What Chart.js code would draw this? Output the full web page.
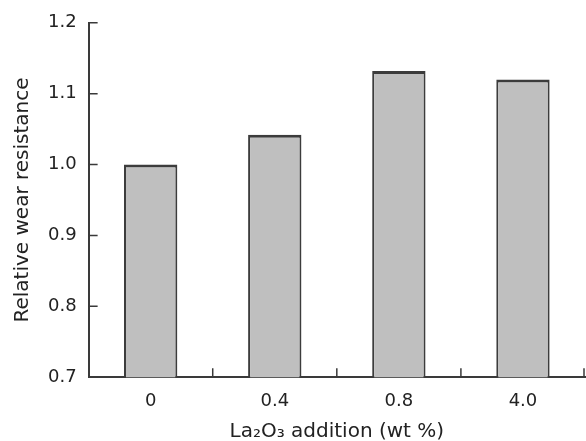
<!DOCTYPE html>
<html>
<head>
<meta charset="utf-8">
<script src="https://cdn.jsdelivr.net/npm/chart.js@4"></script>
<style>
  html, body { margin: 0; padding: 0; background: #fff; }
  #wrap { width: 586px; height: 441px; }
</style>
</head>
<body>
<div id="wrap"><canvas id="chart" width="586" height="441"></canvas></div>
<script>
const categories = ['0', '0.4', '0.8', '4.0'];
const wearResistance = [1.0, 1.042, 1.132, 1.12];
const yTicks = [0.7, 0.8, 0.9, 1.0, 1.1, 1.2];

const AXIS = '#3a3a3a';
const TEXT = '#222';
const FONT = 'DejaVu Sans';

// ticks pointing into the plot, like the printed figure
const innerTicks = {
  id: 'innerTicks',
  afterDraw(chart) {
    const ctx = chart.ctx;
    const x = chart.scales.x, y = chart.scales.y;
    ctx.save();
    ctx.strokeStyle = AXIS;
    ctx.lineWidth = 1.5;
    ctx.beginPath();
    y.ticks.forEach((t, i) => {
      const py = y.getPixelForTick(i);
      ctx.moveTo(x.left, py);
      ctx.lineTo(x.left + 9, py);
    });
    for (let i = 0; i < categories.length; i++) {
      const px = i < categories.length - 1
        ? (x.getPixelForTick(i) + x.getPixelForTick(i + 1)) / 2
        : x.right - 1;
      ctx.moveTo(px, y.bottom);
      ctx.lineTo(px, y.bottom - 9);
    }
    ctx.stroke();
    ctx.restore();
  }
};

new Chart(document.getElementById('chart'), {
  type: 'bar',
  data: {
    labels: categories,
    datasets: [{
      data: wearResistance,
      backgroundColor: '#bfbfbf',
      borderColor: '#3c3c3c',
      borderWidth: { top: 3, left: 2, right: 2, bottom: 0 },
      borderSkipped: false,
      barPercentage: 0.43,
      categoryPercentage: 1.0
    }]
  },
  options: {
    responsive: false,
    animation: false,
    layout: { padding: { top: 21, right: 1, left: 11, bottom: 2 } },
    plugins: { legend: { display: false }, tooltip: { enabled: false } },
    scales: {
      x: {
        grid: { display: false, drawTicks: false },
        border: { color: AXIS, width: 2 },
        ticks: { color: TEXT, padding: 14, font: { family: FONT, size: 18, lineHeight: 1.1 } },
        title: {
          display: true,
          text: 'La₂O₃ addition (wt %)',
          color: TEXT,
          padding: { top: 0, bottom: 0 },
          font: { family: FONT, size: 20, lineHeight: 0.7 }
        }
      },
      y: {
        min: 0.7,
        max: 1.2,
        afterBuildTicks(scale) { scale.ticks = yTicks.map(v => ({ value: v })); },
        grid: { display: false, drawTicks: false },
        border: { color: AXIS, width: 2 },
        ticks: {
          color: TEXT,
          padding: 12,
          font: { family: FONT, size: 18 },
          callback: v => Number(v).toFixed(1)
        },
        title: {
          display: true,
          text: 'Relative wear resistance',
          color: TEXT,
          padding: { top: 0, bottom: 1 },
          font: { family: FONT, size: 20 }
        }
      }
    }
  },
  plugins: [innerTicks]
});
</script>
</body>
</html>
